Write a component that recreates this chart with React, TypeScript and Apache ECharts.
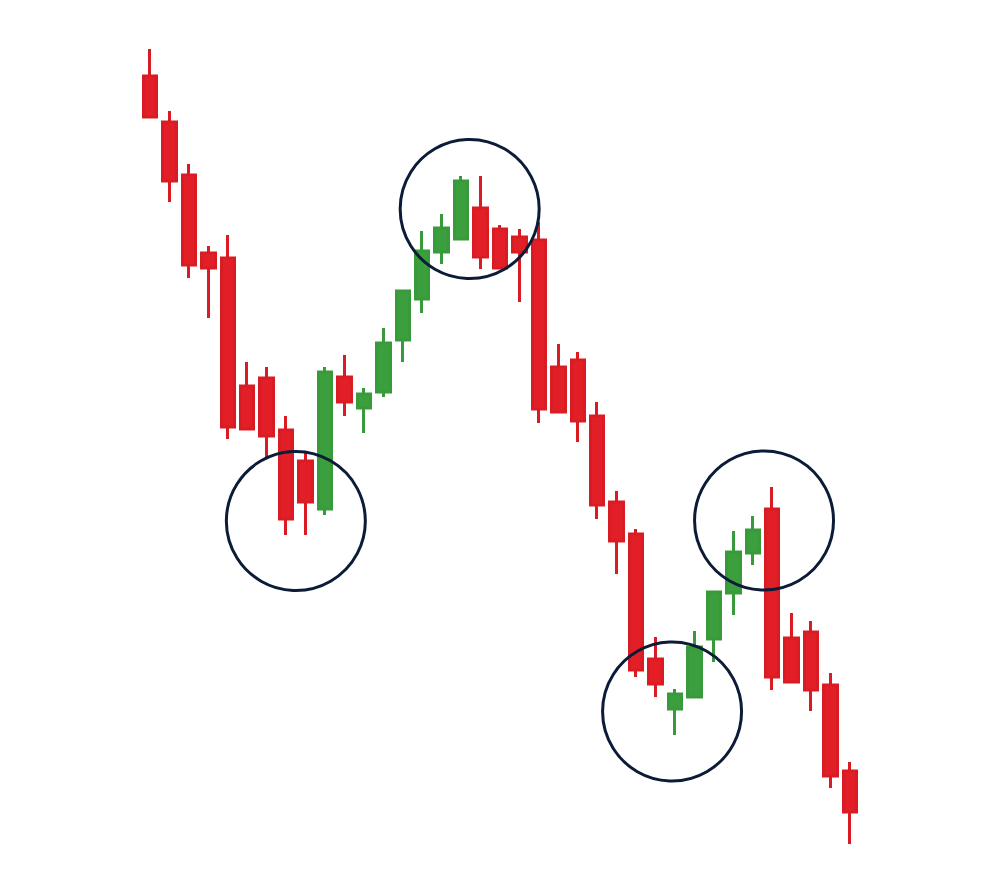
import React, { useEffect, useRef } from "react";
import * as echarts from "echarts";

// candles: [open, close, low, high]
const categories = Array.from({ length: 37 }, (_, i) => `D${i + 1}`);
const opens = [79.8, 75.2, 69.9, 62.1, 61.6, 48.8, 49.6, 44.4, 41.3, 36.5, 49.7, 46.6, 48.2, 53.4, 57.5, 62.2, 63.5, 66.6, 64.5, 63.7, 63.4, 50.7, 51.4, 45.8, 37.2, 34.0, 21.5, 16.5, 17.7, 23.5, 28.1, 32.1, 36.5, 23.6, 24.2, 18.9, 10.3];
const closes = [75.7, 69.3, 60.9, 60.6, 44.7, 44.5, 43.8, 35.5, 37.2, 50.2, 47.2, 48.0, 53.1, 58.3, 62.3, 64.6, 69.3, 61.7, 60.6, 62.2, 46.5, 46.2, 45.3, 36.9, 33.3, 20.4, 19.0, 18.0, 22.7, 28.2, 32.2, 34.4, 19.7, 19.2, 18.4, 9.8, 6.2];
const lows = [75.7, 67.2, 59.6, 55.6, 43.5, 44.5, 41.7, 33.9, 33.9, 35.9, 45.8, 44.1, 47.7, 51.2, 56.1, 61.0, 63.5, 60.5, 60.6, 57.2, 45.1, 46.2, 43.2, 35.5, 30.0, 19.7, 17.7, 13.9, 17.6, 21.2, 25.9, 30.9, 18.4, 19.2, 16.3, 8.6, 3.0];
const highs = [82.5, 76.3, 71.0, 62.8, 63.9, 51.2, 50.7, 45.8, 42.1, 50.7, 51.9, 48.6, 54.6, 58.3, 64.3, 66.0, 69.8, 69.8, 64.9, 64.5, 65.2, 53.0, 52.2, 47.2, 38.3, 34.5, 23.7, 18.5, 24.3, 28.2, 34.3, 35.8, 38.7, 26.1, 25.3, 20.1, 11.2];

// highlight circles (x in candle index units, y in price)
const circleX = [7.5, 16.44, 26.85, 31.58];
const circleY = [35.3, 66.5, 16.25, 35.35];

export default function App() {
  const ref = useRef<HTMLDivElement>(null);
  useEffect(() => {
    if (!ref.current) return;
    const chart = echarts.init(ref.current, undefined, { renderer: "svg" });
    const candleData = opens.map((o, i) => [o, closes[i], lows[i], highs[i]]);
    const circleData = circleX.map((x, i) => [x, circleY[i]]);
    chart.setOption({
      animation: false,
      backgroundColor: "#ffffff",
      grid: { left: 140.3, right: 140.3, top: 0, bottom: 0 },
      xAxis: [
        { type: "category", data: categories, show: false, boundaryGap: true },
        { type: "value", min: -0.5, max: 36.5, show: false },
      ],
      yAxis: { type: "value", min: 0, max: 87.4, show: false },
      series: [
        {
          type: "candlestick",
          data: candleData,
          barWidth: 14,
          itemStyle: {
            color: "#3a9f3c",
            color0: "#e21e26",
            borderColor: "#389a3a",
            borderColor0: "#d91c24",
            borderWidth: 3,
          },
        },
        {
          type: "scatter",
          xAxisIndex: 1,
          data: circleData,
          symbol: "circle",
          symbolSize: 139,
          z: 5,
          silent: true,
          itemStyle: {
            color: "rgba(0,0,0,0)",
            borderColor: "#0c1b37",
            borderWidth: 3,
            opacity: 1,
          },
        },
      ],
    });
    return () => chart.dispose();
  }, []);
  return (
    <div
      ref={ref}
      style={{ position: "absolute", left: 0, top: 0, width: 1000, height: 874 }}
    />
  );
}
